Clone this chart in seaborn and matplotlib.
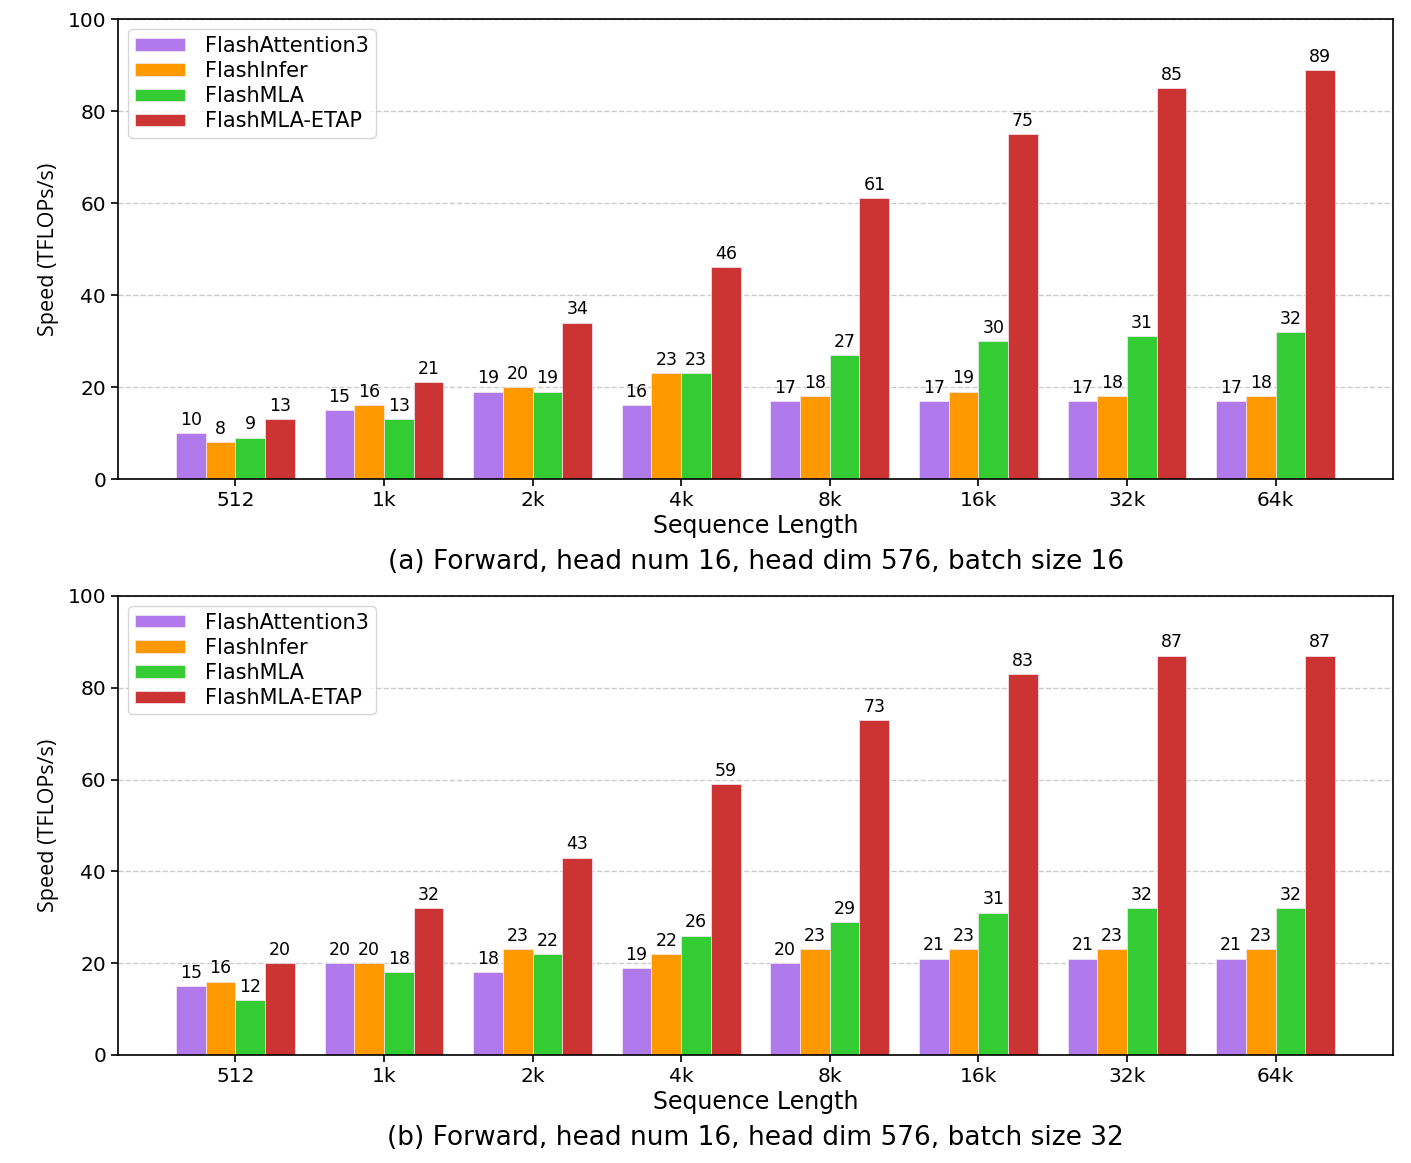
import matplotlib
matplotlib.use("Agg")
import matplotlib.pyplot as plt
import seaborn as sns
import pandas as pd

seq_lengths = ["512", "1k", "2k", "4k", "8k", "16k", "32k", "64k"]
methods = ["FlashAttention3", "FlashInfer", "FlashMLA", "FlashMLA-ETAP"]

bs16_fa3 = [10, 15, 19, 16, 17, 17, 17, 17]
bs16_flashinfer = [8, 16, 20, 23, 18, 19, 18, 18]
bs16_flashmla = [9, 13, 19, 23, 27, 30, 31, 32]
bs16_etap = [13, 21, 34, 46, 61, 75, 85, 89]

bs32_fa3 = [15, 20, 18, 19, 20, 21, 21, 21]
bs32_flashinfer = [16, 20, 23, 22, 23, 23, 23, 23]
bs32_flashmla = [12, 18, 22, 26, 29, 31, 32, 32]
bs32_etap = [20, 32, 43, 59, 73, 83, 87, 87]

captions = ["(a) Forward, head num 16, head dim 576, batch size 16",
            "(b) Forward, head num 16, head dim 576, batch size 32"]

colors = ["#b07aed", "#ff9900", "#33cc33", "#cc3333"]


def long_df(series):
    rows = []
    for m, vals in zip(methods, series):
        for s, v in zip(seq_lengths, vals):
            rows.append({"Sequence Length": s, "Method": m, "Speed": v})
    return pd.DataFrame(rows)


df16 = long_df([bs16_fa3, bs16_flashinfer, bs16_flashmla, bs16_etap])
df32 = long_df([bs32_fa3, bs32_flashinfer, bs32_flashmla, bs32_etap])

sns.set_theme(style="ticks")
plt.rcParams["font.family"] = ["DejaVu Sans"]
plt.rcParams["text.color"] = "black"
plt.rcParams["axes.labelcolor"] = "black"
plt.rcParams["xtick.color"] = "black"
plt.rcParams["ytick.color"] = "black"

fig = plt.figure(figsize=(14.11, 11.63), dpi=100)
ax1 = fig.add_axes([0.0836, 0.5881, 0.9036, 0.3955])
ax2 = fig.add_axes([0.0836, 0.0929, 0.9036, 0.3947])

for ax, df, cap, ycap in [(ax1, df16, captions[0], 0.5168), (ax2, df32, captions[1], 0.0215)]:
    sns.barplot(data=df, x="Sequence Length", y="Speed", hue="Method",
                order=seq_lengths, hue_order=methods, palette=colors, saturation=1,
                width=0.8, edgecolor="#f4eaf4", linewidth=0.5, ax=ax, errorbar=None)
    for cont in ax.containers:
        ax.bar_label(cont, fmt="%d", padding=3, fontsize=12.5, color="black")
    ax.set_ylim(0, 100)
    ax.set_xlim(-0.79, 7.79)
    ax.set_yticks([0, 20, 40, 60, 80, 100])
    ax.yaxis.grid(True, linestyle="--", color="#cccccc", linewidth=1.0)
    ax.set_axisbelow(True)
    for sp in ax.spines.values():
        sp.set_visible(True)
        sp.set_color("black")
        sp.set_linewidth(1.2)
    ax.tick_params(axis="both", labelsize=14.5, length=5, width=1.2, color="black")
    ax.set_xlabel("Sequence Length", fontsize=17, labelpad=3)
    ax.set_ylabel("Speed (TFLOPs/s)", fontsize=15.5, family=["Open Sans", "DejaVu Sans"], labelpad=6)
    leg = ax.legend(loc="upper left", fontsize=15, frameon=True, fancybox=True,
                    handlelength=2.4, handleheight=0.55, handletextpad=1.0,
                    borderpad=0.3, labelspacing=0.25, borderaxespad=0.5)
    leg.set_title(None)
    fig.text(0.5357, ycap, cap, ha="center", va="center", fontsize=19)

fig.savefig("out.png", dpi=100)
